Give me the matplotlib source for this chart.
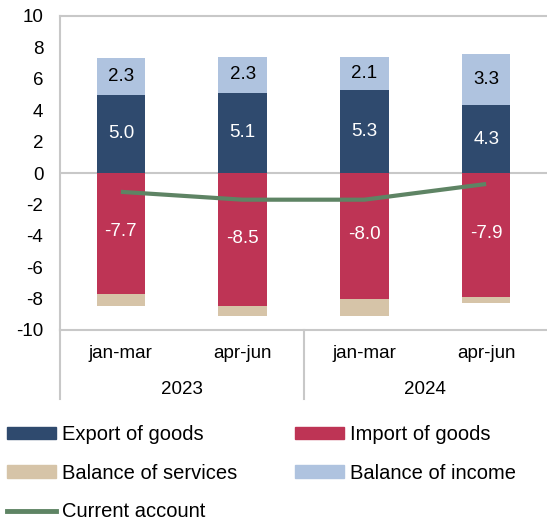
import numpy as np
import matplotlib.pyplot as plt
from matplotlib.patches import Patch
from matplotlib.lines import Line2D

quarters = ['jan-mar', 'apr-jun', 'jan-mar', 'apr-jun']
years = ['2023', '2024']
export_goods = [5.0, 5.1, 5.3, 4.3]
balance_income = [2.3, 2.3, 2.1, 3.3]
import_goods = [-7.7, -8.5, -8.0, -7.9]
balance_services = [-0.8, -0.6, -1.1, -0.4]
current_account = [-1.2, -1.7, -1.7, -0.7]

c_exp = '#2F4A6E'
c_imp = '#BE3455'
c_serv = '#D6C4A8'
c_inc = '#AFC3DF'
c_ca = '#5E8464'
c_grid = '#C8C8C8'

plt.rcParams['font.family'] = ['Liberation Sans', 'DejaVu Sans']
plt.rcParams['axes.unicode_minus'] = False

fig = plt.figure(figsize=(5.47, 5.21), dpi=100)
ax = fig.add_axes([60 / 547, 1 - 330 / 521, 487 / 547, 314 / 521])

x = np.arange(len(quarters))
w = 0.4
ax.bar(x, export_goods, w, color=c_exp, zorder=2)
ax.bar(x, balance_income, w, bottom=export_goods, color=c_inc, zorder=2)
ax.bar(x, import_goods, w, color=c_imp, zorder=2)
ax.bar(x, balance_services, w, bottom=import_goods, color=c_serv, zorder=2)
ax.plot(x, current_account, color=c_ca, lw=3, zorder=3, solid_capstyle='butt')

fs = 13.5
for i in range(len(x)):
    ax.text(x[i], export_goods[i] / 2, f'{export_goods[i]:.1f}', color='white',
            ha='center', va='center', fontsize=fs, zorder=4)
    ax.text(x[i], export_goods[i] + balance_income[i] / 2, f'{balance_income[i]:.1f}',
            color='black', ha='center', va='center', fontsize=fs, zorder=4)
    ax.text(x[i], import_goods[i] / 2 + 0.1, f'{import_goods[i]:.1f}', color='white',
            ha='center', va='center', fontsize=fs, zorder=4)

ax.set_xlim(-0.5, 3.5)
ax.set_ylim(-10, 10)
ax.set_yticks(range(-10, 11, 2))
ax.tick_params(axis='y', length=0, labelsize=fs, pad=12)
ax.set_xticks([])
ax.axhline(0, color=c_grid, lw=1.5, zorder=1)

ax.spines['right'].set_visible(False)
for s in ['top', 'left', 'bottom']:
    ax.spines[s].set_color(c_grid)
    ax.spines[s].set_linewidth(1.5)

# category axis: quarters and years below the plot
trans = ax.get_xaxis_transform()
for i, q in enumerate(quarters):
    ax.text(x[i], -0.075, q, transform=trans, ha='center', va='center', fontsize=fs)
for j, yr in enumerate(years):
    ax.text(2 * j + 0.5, -0.19, yr, transform=trans, ha='center', va='center', fontsize=fs)
ax.plot([-0.5, -0.5], [0, -0.22], transform=trans, color=c_grid, lw=1.5, clip_on=False)
ax.plot([1.5, 1.5], [0, -0.22], transform=trans, color=c_grid, lw=1.5, clip_on=False)

handles = [Patch(color=c_exp), Patch(color=c_imp), Patch(color=c_serv), Patch(color=c_inc),
           Line2D([], [], color=c_ca, lw=3.5)]
labels = ['Export of goods', 'Import of goods', 'Balance of services', 'Balance of income',
          'Current account']
order = [0, 2, 4, 1, 3]
fig.legend([handles[k] for k in order], [labels[k] for k in order], ncol=2,
           loc='upper left', bbox_to_anchor=(2 / 547, 1 - 420 / 521), frameon=False,
           fontsize=14.5, handlelength=2.45, handleheight=0.55, handletextpad=0.3,
           columnspacing=2.85, labelspacing=0.97, borderaxespad=0, borderpad=0.25)

fig.savefig('out.png', dpi=100)
